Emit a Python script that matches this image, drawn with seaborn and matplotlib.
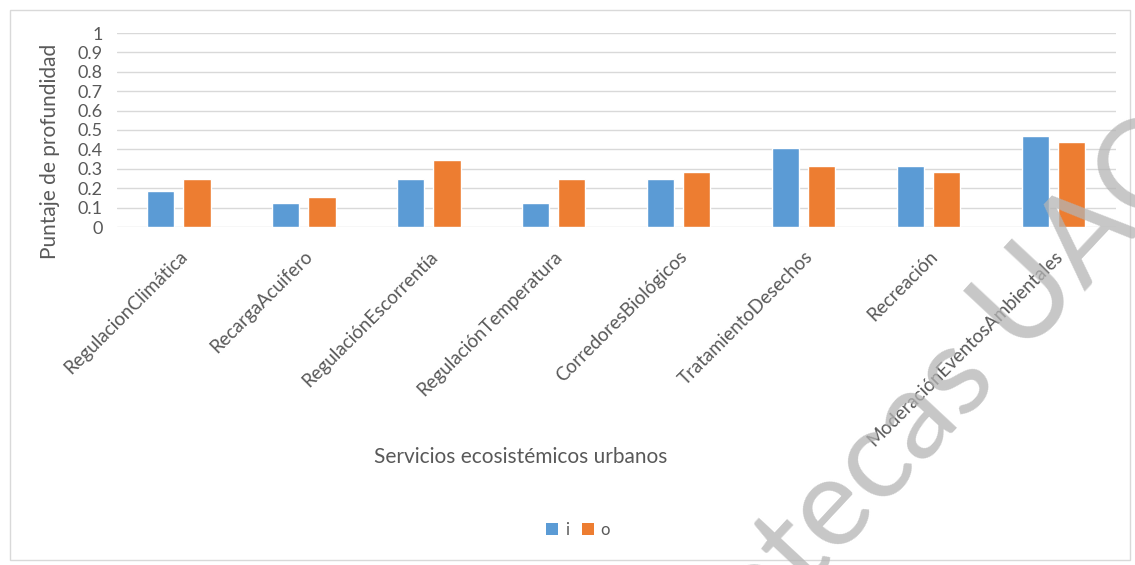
import pandas as pd
import numpy as np
import matplotlib
matplotlib.use('Agg')
import matplotlib.pyplot as plt
import seaborn as sns
from matplotlib.patches import Rectangle, Patch

sns.set_style('white')
plt.rcParams['font.family'] = ['Lato', 'DejaVu Sans']

categorias = ['RegulacionClimática', 'RecargaAcuifero', 'RegulaciónEscorrentía',
              'RegulaciónTemperatura', 'CorredoresBiológicos', 'TratamientoDesechos',
              'Recreación', 'ModeraciónEventosAmbientales']
valores_i = [0.1875, 0.125, 0.25, 0.125, 0.25, 0.40625, 0.3125, 0.46875]
valores_o = [0.25, 0.15625, 0.34375, 0.25, 0.28125, 0.3125, 0.28125, 0.4375]
series = ['i', 'o']
yticks = [0, 0.1, 0.2, 0.3, 0.4, 0.5, 0.6, 0.7, 0.8, 0.9, 1]

df = pd.DataFrame({
    'Servicio': categorias * 2,
    'Serie': ['i'] * len(categorias) + ['o'] * len(categorias),
    'Puntaje': valores_i + valores_o,
})

gris = '#595959'
palette = {'i': '#5B9BD5', 'o': '#ED7D31'}

W, H = 1135, 565
fig = plt.figure(figsize=(W / 100, H / 100), dpi=100)
ax = fig.add_axes([116.5 / W, 1 - 227 / H, 999.5 / W, 194 / H])

sns.barplot(data=df, x='Servicio', y='Puntaje', hue='Serie', palette=palette,
            width=0.58, gap=0.25, ax=ax, legend=False, saturation=1)

ax.set_ylim(0, 1)
ax.set_xlim(-0.5, len(categorias) - 0.5)
ax.set_yticks(yticks)
ax.set_yticklabels([f'{t:g}' for t in yticks], fontsize=13, color=gris)
ax.yaxis.grid(True, color='#d9d9d9', linewidth=1)
ax.set_axisbelow(True)
for s in ax.spines.values():
    s.set_visible(False)
ax.tick_params(axis='y', length=0, pad=10)
ax.tick_params(axis='x', length=0, pad=15)
ax.set_xticks(range(len(categorias)))
ax.set_xticklabels(categorias, rotation=45, ha='right', rotation_mode='anchor',
                   fontsize=13.5, color=gris)
ax.set_xlabel('')
ax.set_ylabel('')

fig.text(50 / W, 1 - 151 / H, 'Puntaje de profundidad', rotation=90,
         ha='center', va='center', fontsize=15, color=gris)
fig.text(521 / W, 1 - 457 / H, 'Servicios ecosistémicos urbanos',
         ha='center', va='center', fontsize=15, color=gris)

handles = [Patch(facecolor=palette[s], edgecolor='none') for s in series]
fig.legend(handles, series, loc='center', bbox_to_anchor=(578 / W, 1 - 530 / H),
           ncol=2, frameon=False, fontsize=12, labelcolor=gris,
           handlelength=0.7, handleheight=0.7, handletextpad=0.4, columnspacing=0.8)

# marco exterior del grafico
fig.patches.append(Rectangle((10 / W, 5 / H), 1120 / W, 550 / H, transform=fig.transFigure,
                             fill=False, edgecolor='#d9d9d9', linewidth=1))

# marca de agua
fig.text(870 / W, 1 - 470 / H, 'Bibliotecas UAC', rotation=47, ha='center', va='center',
         rotation_mode='anchor', fontsize=90, color='#b4b4b4', alpha=0.75, zorder=10)

fig.savefig('out.png', dpi=100)
